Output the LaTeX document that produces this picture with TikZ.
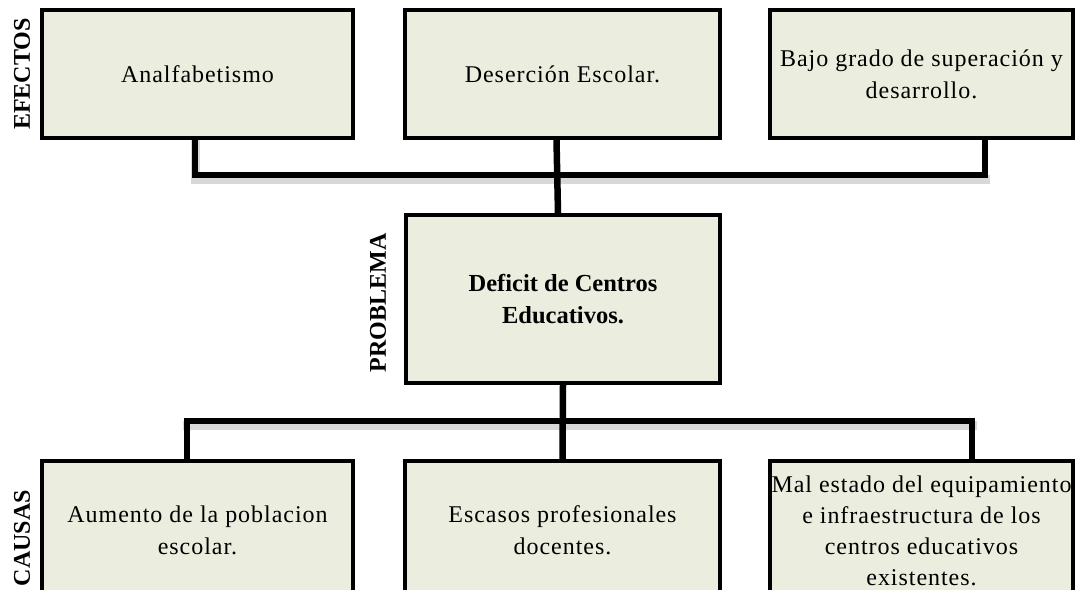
\documentclass[tikz,border=0pt]{standalone}
\usepackage{fontspec}
\setmainfont{Liberation Serif}
\newfontfamily\bodyA[LetterSpace=4]{Liberation Serif}
\usetikzlibrary{positioning}
\definecolor{boxfill}{HTML}{EBEDDE}
\tikzset{
  box/.style={draw=black, line width=3.5pt, fill=boxfill, rectangle, inner sep=0pt, align=center,
    font=\bodyA\fontsize{24}{32}\selectfont},
  sidelabel/.style={rotate=90, font=\bfseries\fontsize{24}{28}\selectfont, inner sep=0pt},
  conn/.style={line width=6.5pt, black, line cap=rect},
  connshadow/.style={line width=9pt, black!25, opacity=0.6, line cap=rect}
}
\begin{document}
\begin{tikzpicture}[x=1pt,y=-1pt]
\useasboundingbox (0,0) rectangle (1075,589);
\clip (0,0) rectangle (1075,589);
\fill[white] (0,0) rectangle (1075,589);
% boxes
\node[box, minimum width=311, minimum height=128] (e1) at (197.5,74) {};
\node[box, minimum width=315, minimum height=128] (e2) at (562.5,74) {};
\node[box, minimum width=303, minimum height=128] (e3) at (921.5,74) {};
\node[box, minimum width=314, minimum height=168] (p) at (563,299) {};
\node[box, minimum width=311, minimum height=139] (c1) at (197.5,530.5) {};
\node[box, minimum width=315, minimum height=139] (c2) at (562.5,530.5) {};
\node[box, minimum width=303, minimum height=139] (c3) at (921.5,530.5) {};
% connector points
\coordinate (t1) at ([xshift=-2.5]e1.south);
\coordinate (t2) at ([xshift=-6]e2.south);
\coordinate (t3) at ([xshift=63.5]e3.south);
\coordinate (tp) at ([xshift=-5]p.north);
\coordinate (bp) at (p.south);
\coordinate (b1) at ([xshift=-10.5]c1.north);
\coordinate (b2) at (c2.north);
\coordinate (b3) at ([xshift=50.5]c3.north);
% shadows
\begin{scope}[transform canvas={yshift=-4pt}]
\draw[connshadow] (t1) -- (t1 |- 0,175) -- (t3 |- 0,175);
\draw[connshadow] (b1 |- 0,421) -- (b3 |- 0,421);
\end{scope}
% connectors
\draw[conn] (t1) -- (t1 |- 0,175) -- (t3 |- 0,175) -- (t3);
\draw[conn] (t2) -- (tp);
\draw[conn] (b1) -- (b1 |- 0,421) -- (b3 |- 0,421) -- (b3);
\draw[conn] (bp) -- (b2);
% redraw boxes over connector ends
\node[box, minimum width=311, minimum height=128] at (e1) {Analfabetismo};
\node[box, minimum width=315, minimum height=128] at (e2) {Deserción Escolar.};
\node[box, minimum width=303, minimum height=128] at (e3) {Bajo grado de superación y\\desarrollo.};
\node[box, minimum width=314, minimum height=168, font=\bfseries\fontsize{24.5}{32}\selectfont] at (p) {Deficit de Centros\\Educativos.};
\node[box, minimum width=311, minimum height=139] at (c1) {Aumento de la poblacion\\escolar.};
\node[box, minimum width=315, minimum height=139] at (c2) {Escasos profesionales\\docentes.};
\node[box, minimum width=303, minimum height=139, font=\bodyA\fontsize{24}{31}\selectfont] at (c3) {Mal estado del equipamiento\\e infraestructura de los\\centros educativos\\existentes.};
% side labels
\node[sidelabel] (lef) at (22,74) {EFECTOS};
\node[sidelabel] (lpr) at (378,303) {PROBLEMA};
\node[sidelabel] (lca) at (22,538) {CAUSAS};
\end{tikzpicture}
\end{document}
